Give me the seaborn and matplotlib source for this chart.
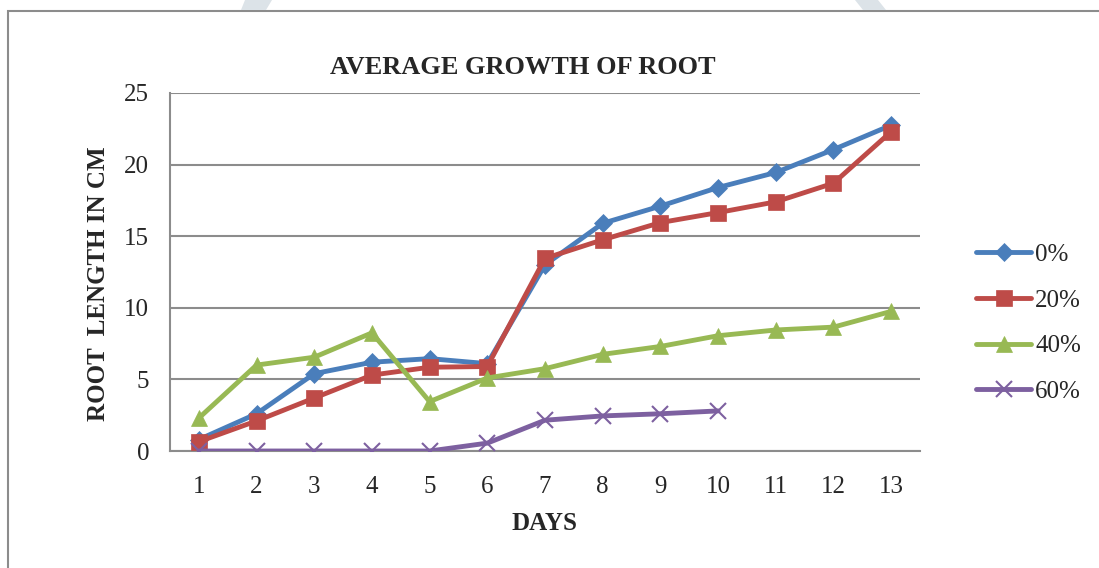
import numpy as np
import pandas as pd
import seaborn as sns
import matplotlib
matplotlib.use("Agg")
import matplotlib.pyplot as plt
from matplotlib.patches import Rectangle, Polygon
from matplotlib.ticker import FixedLocator

days = list(range(1, 14))
root_0 = [0.8, 2.6, 5.4, 6.2, 6.45, 6.1, 13.0, 15.9, 17.1, 18.4, 19.45, 21.05, 22.75]
root_20 = [0.65, 2.1, 3.7, 5.3, 5.85, 5.9, 13.45, 14.75, 15.95, 16.65, 17.4, 18.7, 22.3]
root_40 = [2.3, 6.0, 6.55, 8.25, 3.45, 5.1, 5.75, 6.75, 7.3, 8.05, 8.45, 8.65, 9.75]
root_60 = [0.0, 0.0, 0.0, 0.0, 0.0, 0.55, 2.15, 2.45, 2.6, 2.8, np.nan, np.nan, np.nan]
series_names = ["0%", "20%", "40%", "60%"]

frames = []
for name, vals in zip(series_names, [root_0, root_20, root_40, root_60]):
    frames.append(pd.DataFrame({"day": days, "length": vals, "series": name}))
df = pd.concat(frames, ignore_index=True)

colors = {"0%": "#4A7EBB", "20%": "#BE4B48", "40%": "#98B954", "60%": "#7D60A0"}
markers = {"0%": "D", "20%": "s", "40%": "^", "60%": "x"}
msizes = {"0%": 9, "20%": 11.5, "40%": 11.5, "60%": 11}

sns.set_style("white")
plt.rcParams["font.family"] = ["Liberation Serif", "DejaVu Serif"]

W, H = 1099, 568
fig = plt.figure(figsize=(W / 100, H / 100), dpi=100)
ax = fig.add_axes([170 / W, 1 - 451 / H, 750 / W, 358 / H])

# chart border
fig.patches.append(Rectangle((8 / W, -0.1), 1.2, (H - 11) / H + 0.1,
                             transform=fig.transFigure, fill=False,
                             edgecolor="#8C8C8C", linewidth=1.5, zorder=0))
# faint page decoration above the border
for pts in ([(245, 0), (272, 0), (266, 10), (241, 10)],
            [(855, 0), (878, 0), (886, 10), (863, 10)]):
    fig.patches.append(Polygon([(x / W, 1 - y / H) for x, y in pts], closed=True,
                               transform=fig.transFigure, facecolor="#DCE3E8",
                               edgecolor="none", zorder=0))

for name in series_names:
    sub = df[df["series"] == name]
    sns.lineplot(data=sub, x="day", y="length", ax=ax, color=colors[name],
                 marker=markers[name], markersize=msizes[name],
                 markeredgecolor=colors[name], markeredgewidth=1.5 if name == "60%" else 0.5,
                 linewidth=3.5, label=name, zorder=3)

ax.set_xlim(0.5, 13.5)
ax.set_ylim(0, 25)
ax.set_yticks([0, 5, 10, 15, 20, 25])
ax.yaxis.grid(True, color="#8C8C8C", linewidth=1.5)
ax.xaxis.grid(False)
ax.set_xticks(days)
ax.xaxis.set_minor_locator(FixedLocator(np.arange(0.5, 14, 1)))
ax.tick_params(axis="x", which="major", length=0, labelsize=18, pad=18)
ax.tick_params(axis="x", which="minor", length=7, width=1.5, color="#8C8C8C", direction="out")
ax.tick_params(axis="y", which="major", length=6, width=1.5, color="#8C8C8C",
               direction="out", labelsize=18, pad=9)
for side in ["top", "right"]:
    ax.spines[side].set_visible(False)
for side in ["left", "bottom"]:
    ax.spines[side].set_color("#8C8C8C")
    ax.spines[side].set_linewidth(1.5)

ax.set_xlabel("DAYS", fontsize=18, fontweight="bold", labelpad=10)
ax.set_ylabel("ROOT  LENGTH IN CM", fontsize=18, fontweight="bold")
ax.yaxis.set_label_coords(-0.08, 0.466)
fig.text(523 / W, 1 - 67 / H, "AVERAGE GROWTH OF ROOT", fontsize=19,
         fontweight="bold", ha="center", va="center")

leg = ax.legend(loc="center left", bbox_to_anchor=(1.045, 0.357), frameon=False,
                fontsize=18, handlelength=2.2, labelspacing=0.93, handletextpad=0.15)

fig.savefig("out.png", dpi=100)
